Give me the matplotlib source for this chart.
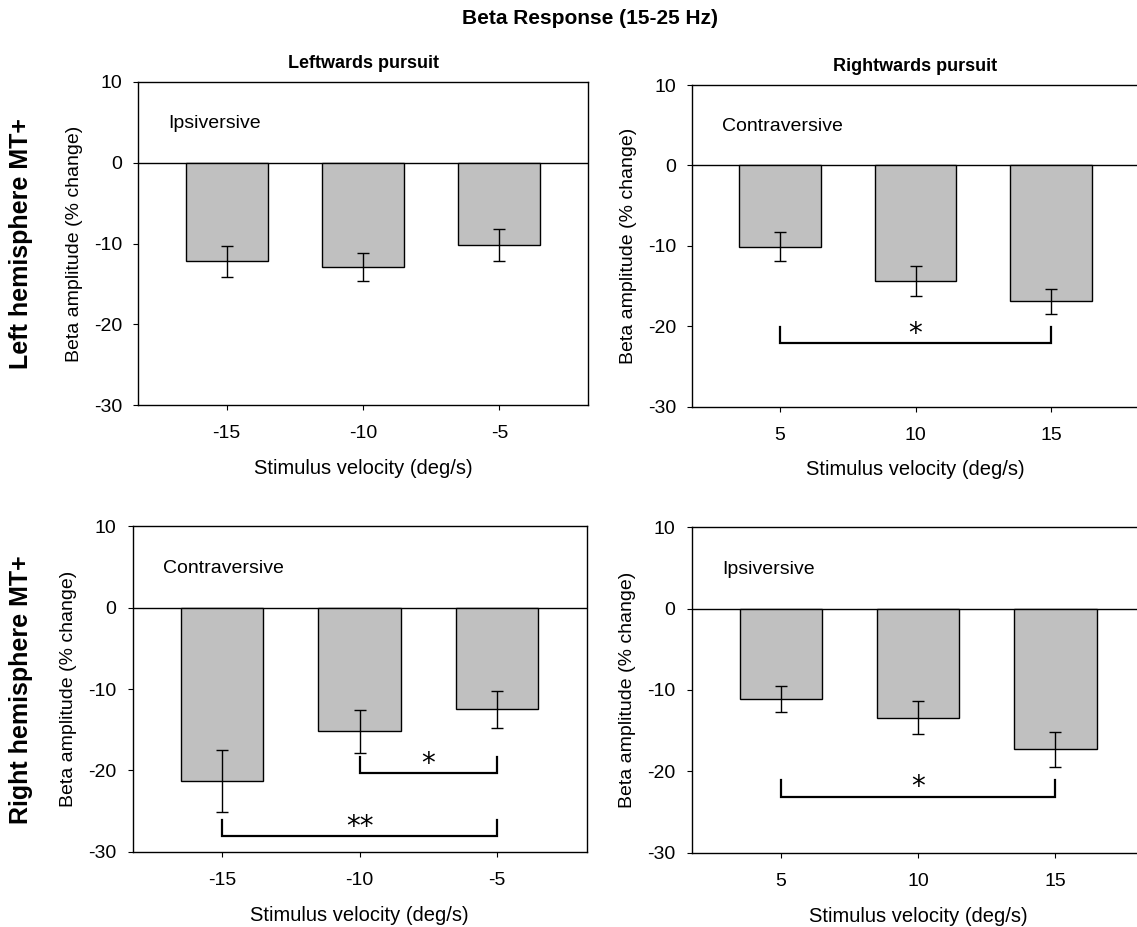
import matplotlib
matplotlib.use("Agg")
import matplotlib.pyplot as plt
import numpy as np

# ── data ─────────────────────────────────────────────────────────────────────
left_vel = ["-15", "-10", "-5"]
right_vel = ["5", "10", "15"]

lh_left_mean = [-12.2, -12.9, -10.2]     # left hemisphere, leftwards pursuit
lh_left_err = [1.9, 1.75, 2.0]
lh_right_mean = [-10.1, -14.4, -16.9]    # left hemisphere, rightwards pursuit
lh_right_err = [1.85, 1.9, 1.55]
rh_left_mean = [-21.3, -15.2, -12.5]     # right hemisphere, leftwards pursuit
rh_left_err = [3.85, 2.6, 2.3]
rh_right_mean = [-11.1, -13.4, -17.3]    # right hemisphere, rightwards pursuit
rh_right_err = [1.65, 2.0, 2.15]

panel_notes = ["Ipsiversive", "Contraversive", "Contraversive", "Ipsiversive"]

# significance brackets: (panel, x0, x1, y level, label)
sig = [
    (1, 0, 2, -22.1, "*"),
    (2, 1, 2, -20.3, "*"),
    (2, 0, 2, -28.1, "**"),
    (3, 0, 2, -23.1, "*"),
]

# ── style ────────────────────────────────────────────────────────────────────
plt.rcParams.update({
    "font.family": ["Liberation Sans", "DejaVu Sans"],
    "axes.unicode_minus": False,
    "axes.linewidth": 1.0,
    "xtick.major.size": 3.6,
    "ytick.major.size": 3.6,
    "xtick.major.pad": 11,
    "ytick.major.pad": 8,
    "xtick.labelsize": 14,
    "ytick.labelsize": 14,
})

W, H = 1137, 927
fig = plt.figure(figsize=(W / 100, H / 100), dpi=100)

def px_axes(x0, y0, x1, y1):
    return fig.add_axes([x0 / W, 1 - y1 / H, (x1 - x0) / W, (y1 - y0) / H])

axes = [
    px_axes(138, 82, 588, 405),
    px_axes(692, 85, 1139, 406.5),
    px_axes(132.5, 526.4, 586.5, 851.8),
    px_axes(691.7, 527.4, 1144.7, 852.6),
]

means = [lh_left_mean, lh_right_mean, rh_left_mean, rh_right_mean]
errs = [lh_left_err, lh_right_err, rh_left_err, rh_right_err]
labels = [left_vel, right_vel, left_vel, right_vel]

for i, ax in enumerate(axes):
    x = np.arange(3)
    ax.bar(x, means[i], width=0.6, color="#C0C0C0", edgecolor="black", linewidth=1.0, zorder=2)
    ax.errorbar(x, means[i], yerr=errs[i], fmt="none", ecolor="black",
                elinewidth=1.0, capsize=4.5, capthick=1.0, zorder=3)
    ax.axhline(0, color="black", linewidth=1.0, zorder=1)
    ax.set_xlim(-0.65, 2.65)
    ax.set_ylim(-30, 10)
    ax.set_yticks([-30, -20, -10, 0, 10])
    ax.set_xticks(x)
    ax.set_xticklabels(labels[i])
    ax.set_xlabel("Stimulus velocity (deg/s)", fontsize=14.5, labelpad=12)
    ax.set_ylabel("Beta amplitude (% change)", fontsize=14, labelpad=8)
    ax.text(0.067, 4.8, panel_notes[i], transform=ax.get_yaxis_transform(),
            fontsize=14, va="center", ha="left")

for p, x0, x1, y, lab in sig:
    ax = axes[p]
    ax.plot([x0, x0, x1, x1], [y + 2.0, y, y, y + 2.0], color="black", linewidth=1.6,
            solid_joinstyle="miter", zorder=4)
    ax.text((x0 + x1) / 2, y - 0.6, lab, ha="center", va="bottom", fontsize=20,
            family="DejaVu Sans")

axes[0].set_title("Leftwards pursuit", fontsize=13, fontweight="bold", pad=10)
axes[1].set_title("Rightwards pursuit", fontsize=13, fontweight="bold", pad=10)

fig.text(590 / W, 1 - 19 / H, "Beta Response (15-25 Hz)", ha="center", va="center",
         fontsize=15, fontweight="bold")
fig.text(21 / W, 1 - 244 / H, "Left hemisphere MT+", rotation=90, ha="center",
         va="center", fontsize=18, fontweight="bold")
fig.text(21 / W, 1 - 690 / H, "Right hemisphere MT+", rotation=90, ha="center",
         va="center", fontsize=18, fontweight="bold")

fig.savefig("out.png", dpi=100)
